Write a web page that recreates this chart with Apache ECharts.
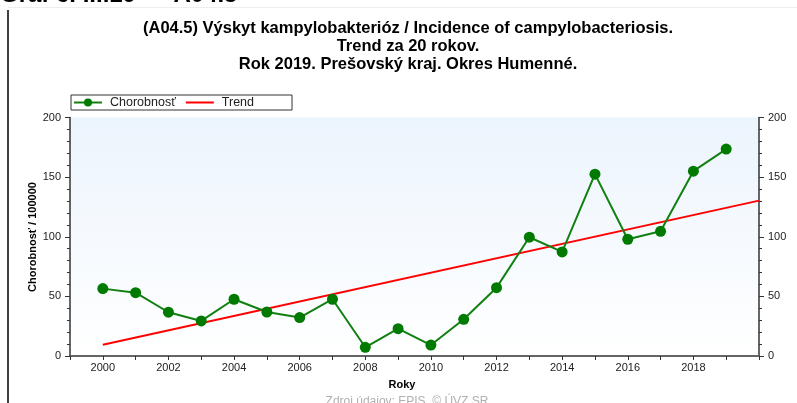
<!DOCTYPE html>
<html>
<head>
<meta charset="utf-8">
<script src="https://cdn.jsdelivr.net/npm/echarts@6/dist/echarts.min.js"></script>
<style>
    html, body { margin: 0; padding: 0; background: #fff; }
    #chart { width: 797px; height: 403px; }
</style>
</head>
<body>
<div id="chart"></div>
<script>
// roky a hodnoty chorobnosti
var years = [2000, 2001, 2002, 2003, 2004, 2005, 2006, 2007, 2008, 2009,
             2010, 2011, 2012, 2013, 2014, 2015, 2016, 2017, 2018, 2019];
var chorobnost = [56.5, 53.1, 36.7, 29.4, 47.6, 36.9, 32.2, 47.6, 7.3, 22.9,
                  9.2, 30.8, 57.3, 99.6, 87.3, 152.5, 97.9, 104.6, 155, 173.5];
// trend - zaciatok a koniec priamky
var trendYears = [2000, 2020];
var trendValues = [9.5, 130.3];
var titleLines = [
    '(A04.5) Výskyt kampylobakterióz / Incidence of campylobacteriosis.',
    'Trend za 20 rokov.',
    'Rok 2019. Prešovský kraj. Okres Humenné.'
];

var font = 'Liberation Sans, Arial, sans-serif';
var myChart = echarts.init(document.getElementById('chart'));

var lineData = years.map(function (y, i) { return [y, chorobnost[i]]; });
var trendData = trendYears.map(function (y, i) { return [y, trendValues[i]]; });

var titleGraphics = titleLines.map(function (t, i) {
    return {
        type: 'text',
        x: 408,
        y: 28 + i * 18,
        style: {
            text: t,
            fill: '#000',
            font: 'bold 16.5px ' + font,
            textAlign: 'center',
            textVerticalAlign: 'middle'
        }
    };
});

var option = {
    animation: false,
    textStyle: { fontFamily: font },
    graphic: titleGraphics.concat([
        {
            type: 'text',
            x: 0,
            y: -17,
            style: { text: 'Graf č. III.19 — A04.5', fill: '#000', font: 'bold 24px ' + font }
        },
        {
            type: 'line',
            shape: { x1: 8, y1: 10, x2: 8, y2: 403 },
            style: { stroke: '#000', lineWidth: 1.5 }
        },
        {
            type: 'line',
            shape: { x1: 8, y1: 7.5, x2: 797, y2: 7.5 },
            style: { stroke: '#eeeeee', lineWidth: 1 }
        },
        {
            type: 'text',
            x: 402,
            y: 385,
            style: { text: 'Roky', fill: '#000', font: 'bold 11px ' + font, textAlign: 'center', textVerticalAlign: 'middle' }
        },
        {
            type: 'text',
            x: 407,
            y: 402,
            style: { text: 'Zdroj údajov: EPIS, © ÚVZ SR', fill: '#b0b0b0', font: '12px ' + font, textAlign: 'center', textVerticalAlign: 'middle' }
        },
        {
            type: 'text',
            x: 33,
            y: 237,
            rotation: Math.PI / 2,
            style: { text: 'Chorobnosť / 100000', fill: '#000', font: 'bold 11px ' + font, textAlign: 'center', textVerticalAlign: 'middle' }
        }
    ]),
    legend: {
        left: 71,
        top: 95,
        padding: [1, 38, 1, 2],
        itemGap: 10,
        itemWidth: 28,
        itemHeight: 10,
        borderColor: '#333',
        borderWidth: 1,
        selectedMode: false,
        textStyle: { fontSize: 12.5, color: '#222', fontFamily: font, padding: [0, 0, 0, 3] },
        data: [
            { name: 'Chorobnosť' },
            { name: 'Trend', icon: 'path://M0,0 L28,0 L28,2 L0,2 Z' }
        ]
    },
    grid: {
        left: 70,
        right: 38,
        top: 117.5,
        bottom: 47,
        show: true,
        borderWidth: 0,
        backgroundColor: new echarts.graphic.LinearGradient(0, 0, 0, 1, [
            { offset: 0, color: '#ecf4fd' },
            { offset: 1, color: '#ffffff' }
        ])
    },
    xAxis: [
        {
            type: 'value',
            min: 1999,
            max: 2020,
            interval: 1,
            axisLine: { lineStyle: { color: '#333', width: 1.5 } },
            axisTick: { length: 4, lineStyle: { color: '#333' } },
            splitLine: { show: false },
            axisLabel: {
                color: '#222',
                fontSize: 11,
                margin: 6,
                formatter: function (v) {
                    return (v % 2 === 0 && v >= 2000 && v <= 2018) ? String(v) : '';
                }
            }
        },
        {
            type: 'value',
            position: 'top',
            min: 1999,
            max: 2020,
            interval: 1,
            axisLine: { show: true, lineStyle: { color: '#666', width: 1.5 } },
            axisTick: { inside: true, length: 4, lineStyle: { color: '#333' } },
            splitLine: { show: false },
            axisLabel: { show: false }
        }
    ],
    yAxis: [
        {
            type: 'value',
            min: 0,
            max: 200,
            interval: 50,
            axisLine: { show: true, lineStyle: { color: '#333', width: 1.5 } },
            axisTick: { show: true, length: 5, lineStyle: { color: '#333' } },
            minorTick: { show: true, splitNumber: 5, length: 3, lineStyle: { color: '#333' } },
            splitLine: { show: false },
            axisLabel: { color: '#222', fontSize: 11, margin: 9 }
        },
        {
            type: 'value',
            position: 'right',
            min: 0,
            max: 200,
            interval: 50,
            axisLine: { show: true, lineStyle: { color: '#333', width: 1.5 } },
            axisTick: { show: true, length: 5, lineStyle: { color: '#333' } },
            minorTick: { show: true, splitNumber: 5, length: 3, lineStyle: { color: '#333' } },
            splitLine: { show: false },
            axisLabel: { color: '#222', fontSize: 11, margin: 9 }
        }
    ],
    series: [
        {
            name: 'Trend',
            type: 'line',
            data: trendData,
            symbol: 'none',
            lineStyle: { color: '#ff0000', width: 2 },
            itemStyle: { color: '#ff0000' },
            z: 2
        },
        {
            name: 'Chorobnosť',
            type: 'line',
            data: lineData,
            symbol: 'circle',
            symbolSize: 11,
            lineStyle: { color: '#108010', width: 2 },
            itemStyle: { color: '#007a00' },
            z: 3
        }
    ]
};
myChart.setOption(option);
</script>
</body>
</html>
